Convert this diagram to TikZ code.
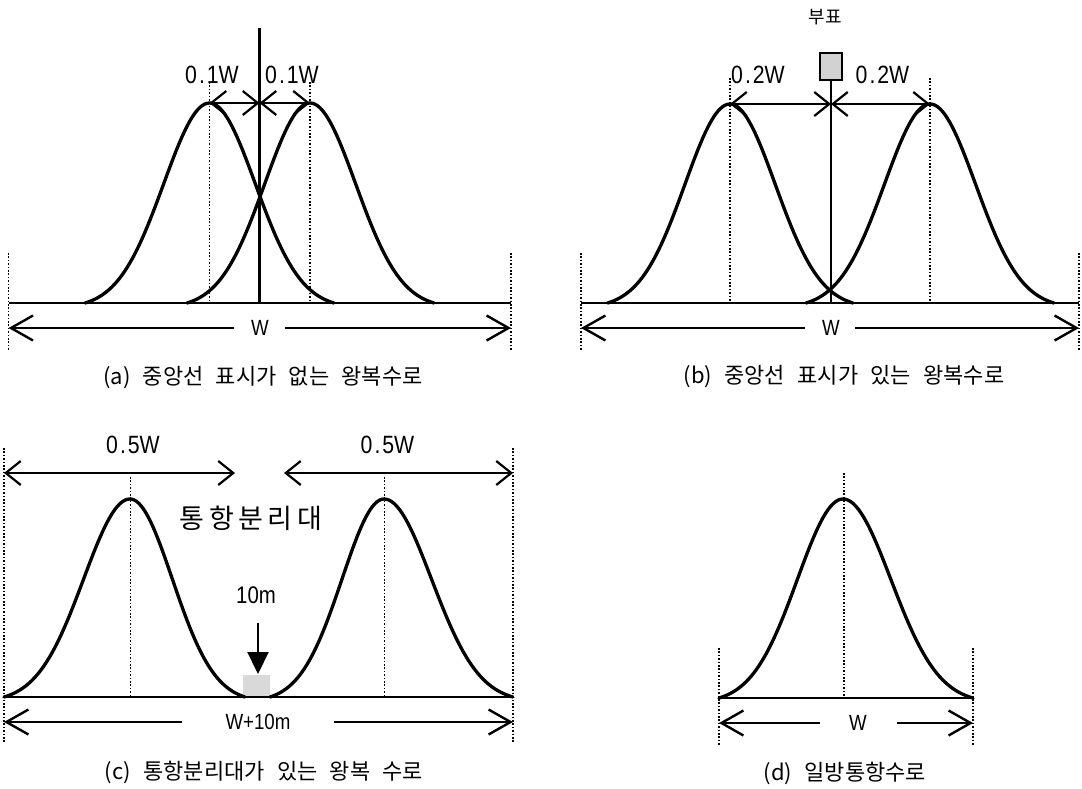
\documentclass[tikz,border=0pt]{standalone}
\usepackage{fontspec}
\usetikzlibrary{arrows.meta}
\newfontfamily\kr{Noto Sans CJK KR}
\newfontfamily\krcap[WordSpace=2.5]{Noto Sans CJK KR}
\newfontfamily\lat[FakeStretch=0.85]{Liberation Sans}
\newcommand\dimtxt[2]{#1\kern2pt.\kern2pt#2}
\newcommand\bellc[5]{\draw[curve] plot[domain=-1:0,samples=51] ({#2+(#2-#1)*\x},{#4+(#5-#4)*(exp(-((\x)*(\x))/0.2704)-0.0248)/0.9752}) -- plot[domain=0:1,samples=51] ({#2+(#3-#2)*\x},{#4+(#5-#4)*(exp(-((\x)*(\x))/0.2704)-0.0248)/0.9752});}
\tikzset{
  curve/.style={line width=3.3pt, line join=round, line cap=round},
  baseln/.style={line width=2.6pt},
  cline/.style={line width=2.2pt},
  dots/.style={line width=1.6pt, dash pattern=on 1.6pt off 1.8pt},
  dimarr/.style={line width=2.2pt, >={Straight Barb[length=15pt,width=24pt]}},
  warr/.style={line width=2.4pt, >={Straight Barb[length=22pt,width=25pt]}},
  lbl/.style={inner sep=0pt, font=\lat\fontsize{25}{25}\selectfont},
  wlbl/.style={inner sep=0pt, font=\lat\fontsize{22}{22}\selectfont},
  captxt/.style={inner sep=0pt, font=\krcap\fontsize{22}{22}\selectfont},
}
\begin{document}
\begin{tikzpicture}[x=1pt,y=-1pt]
\useasboundingbox (0,0) rectangle (1082,788);
% ================= (a)
\coordinate (aL) at (8.6,303); \coordinate (aR) at (511,303);
\coordinate (aLt) at (8.6,253); \coordinate (aLb) at (8.6,350);
\coordinate (aRt) at (511,253); \coordinate (aRb) at (511,350);
\coordinate (aWl) at (8.6,328); \coordinate (aWr) at (511,328);
\coordinate (aWgl) at (234,328); \coordinate (aWgr) at (285,328);
\coordinate (aCt) at (259.5,28); \coordinate (aCb) at (259.5,303);
\coordinate (aDc) at (259.5,103); \coordinate (aDl) at (209.5,103); \coordinate (aDr) at (310,103);
\coordinate (aP1t) at (209.5,82); \coordinate (aP1b) at (209.5,303);
\coordinate (aP2t) at (310,82); \coordinate (aP2b) at (310,303);
\draw[dots] (aLt) -- (aLb); \draw[dots] (aRt) -- (aRb);
\draw[dots] (aP1t) -- (aP1b); \draw[dots] (aP2t) -- (aP2b);
\draw[baseln] (aL) -- (aR);
\draw[cline] (aCt) -- (aCb);
\bellc{85}{209.5}{334}{303}{103}
\bellc{187}{310}{434}{303}{103}
\draw[dimarr,<->] (aDc) -- (aDl);
\draw[dimarr,<->] (aDc) -- (aDr);
\draw[warr,->] (aWgl) -- (aWl);
\draw[warr,->] (aWgr) -- (aWr);
\node[wlbl] (aW) at (260,328) {W};
\node[lbl] (aT1) at (212,75) {\dimtxt{0}{1W}};
\node[lbl] (aT2) at (292,75) {\dimtxt{0}{1W}};
\node[captxt] (aCap) at (263,378) {(a) 중앙선 표시가 없는 왕복수로};
% ================= (b)
\coordinate (bL) at (581,303); \coordinate (bR) at (1079,303);
\coordinate (bLt) at (581,253); \coordinate (bLb) at (581,350);
\coordinate (bRt) at (1079,253); \coordinate (bRb) at (1079,350);
\coordinate (bWl) at (581,328); \coordinate (bWr) at (1079,328);
\coordinate (bWgl) at (805,328); \coordinate (bWgr) at (855,328);
\coordinate (bCb) at (831,303);
\coordinate (bDc) at (831,104); \coordinate (bDl) at (730,104); \coordinate (bDr) at (930,104);
\coordinate (bP1t) at (730,78); \coordinate (bP1b) at (730,303);
\coordinate (bP2t) at (930,78); \coordinate (bP2b) at (930,303);
\draw[dots] (bLt) -- (bLb); \draw[dots] (bRt) -- (bRb);
\draw[dots] (bP1t) -- (bP1b); \draw[dots] (bP2t) -- (bP2b);
\draw[baseln] (bL) -- (bR);
\node[draw, line width=1.8pt, fill=gray!35, minimum width=22pt, minimum height=27pt, inner sep=0pt] (buoy) at (831,66.5) {};
\draw[cline] (buoy.south) -- (bCb);
\bellc{607.5}{730}{853}{303}{104}
\bellc{806}{930}{1054}{303}{104}
\draw[dimarr,<->] (bDc) -- (bDl);
\draw[dimarr,<->] (bDc) -- (bDr);
\draw[warr,->] (bWgl) -- (bWl);
\draw[warr,->] (bWgr) -- (bWr);
\node[wlbl] (bW) at (831,328) {W};
\node[lbl] (bT1) at (758,75) {\dimtxt{0}{2W}};
\node[lbl] (bT2) at (882.5,75) {\dimtxt{0}{2W}};
\node[inner sep=0pt, font=\kr\fontsize{18}{18}\selectfont] (bBuoy) at (825,17) {부표};
\node[captxt] (bCap) at (844,377) {(b) 중앙선 표시가 있는 왕복수로};
% ================= (c)
\coordinate (cL) at (4,697); \coordinate (cR) at (513,697);
\coordinate (cLt) at (4,448); \coordinate (cLb) at (4,743);
\coordinate (cRt) at (513,448); \coordinate (cRb) at (513,743);
\coordinate (cA1l) at (4,473); \coordinate (cA1r) at (235,473);
\coordinate (cA2l) at (284,473); \coordinate (cA2r) at (513,473);
\coordinate (cWl) at (4,722); \coordinate (cWr) at (513,722);
\coordinate (cWgl) at (182,722); \coordinate (cWgr) at (334,722);
\coordinate (cP1t) at (130.5,477); \coordinate (cP1b) at (130.5,697);
\coordinate (cP2t) at (384.5,477); \coordinate (cP2b) at (384.5,697);
\coordinate (cArT) at (258,623); \coordinate (cArB) at (258,674);
\draw[dots] (cLt) -- (cLb); \draw[dots] (cRt) -- (cRb);
\draw[dots] (cP1t) -- (cP1b); \draw[dots] (cP2t) -- (cP2b);
\fill[gray!30] (243,675) rectangle (270,697);
\draw[baseln] (cL) -- (cR);
\bellc{4}{130}{245}{697}{499}
\bellc{270}{384}{513}{697}{499}
\draw[dimarr,<->] (cA1l) -- (cA1r);
\draw[dimarr,<->] (cA2l) -- (cA2r);
\draw[line width=2.2pt, -{Triangle[length=22pt,width=21pt]}] (cArT) -- (cArB);
\draw[warr,->] (cWgl) -- (cWl);
\draw[warr,->] (cWgr) -- (cWr);
\node[wlbl] (cW) at (258,722) {W+10m};
\node[lbl] (cT1) at (133,445) {\dimtxt{0}{5W}};
\node[lbl] (cT2) at (387.5,445) {\dimtxt{0}{5W}};
\node[inner sep=0pt, font=\lat\fontsize{24}{24}\selectfont] (c10) at (256,595) {10m};
\node[inner sep=0pt, font=\kr\fontsize{27}{27}\selectfont] (cSep) at (251,518) {통\,항\,분\,리\,대};
\node[captxt] (cCap) at (264,772) {(c) 통항분리대가 있는 왕복 수로};
% ================= (d)
\coordinate (dL) at (719,698); \coordinate (dR) at (973,698);
\coordinate (dLt) at (719,648); \coordinate (dLb) at (719,745);
\coordinate (dRt) at (973,648); \coordinate (dRb) at (973,745);
\coordinate (dWl) at (719,723); \coordinate (dWr) at (973,723);
\coordinate (dWgl) at (820,723); \coordinate (dWgr) at (897,723);
\coordinate (dPt) at (844,473); \coordinate (dPb) at (844,698);
\draw[dots] (dLt) -- (dLb); \draw[dots] (dRt) -- (dRb);
\draw[dots] (dPt) -- (dPb);
\draw[baseln] (dL) -- (dR);
\bellc{719}{843}{973}{698}{499}
\draw[warr,->] (dWgl) -- (dWl);
\draw[warr,->] (dWgr) -- (dWr);
\node[wlbl] (dW) at (858,723) {W};
\node[captxt] (dCap) at (845,773) {(d) 일방통항수로};
\end{tikzpicture}
\end{document}
